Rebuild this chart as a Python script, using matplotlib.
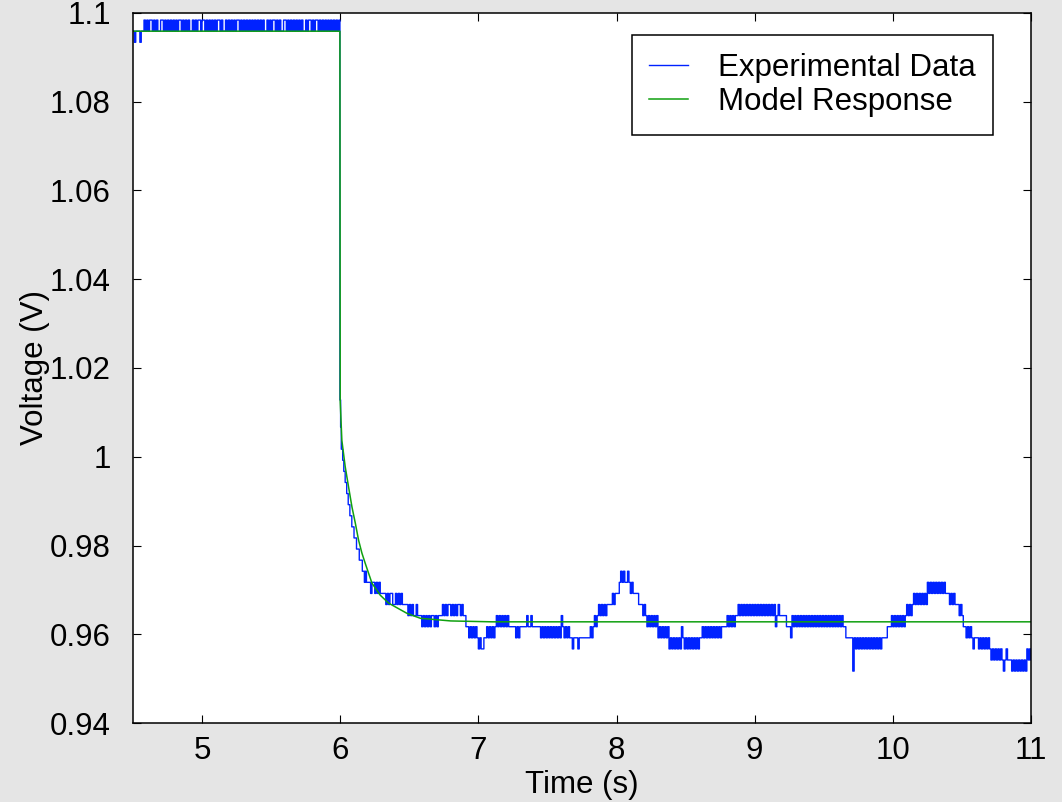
import numpy as np
import matplotlib.pyplot as plt

plt.rcParams['font.family'] = ['Liberation Sans', 'DejaVu Sans']

# ---- experimental data -------------------------------------------------
# plateau before the step: one sample every 10 ms from 4.50 s,
# each code is an index into PLATEAU_LEVELS (volts)
PLATEAU_LEVELS = [1.0934, 1.0959, 1.0984]
PLATEAU_CODES = (
    "10111011"
    "21212212121122121212"
    "12121221212121121212"
    "21221212121212212112"
    "12121212212121212121"
    "21212121121212212121"
    "12212121212121211212"
    "2121221212121212121212"
)

STEP_T = [5.998, 6.003, 6.008, 6.018, 6.026, 6.036, 6.047, 6.058, 6.070,
          6.084, 6.100, 6.118, 6.138, 6.160, 6.175, 6.182, 6.190]
STEP_V = [1.0128, 1.0067, 1.0017, 0.9992, 0.9967, 0.9942, 0.9917, 0.9892,
          0.9867, 0.9842, 0.9817, 0.9792, 0.9767, 0.9742, 0.9717, 0.9742,
          0.9717]

# after the drop: one sample every 10 ms from 6.20 s to 11.00 s,
# each digit is an index into TAIL_LEVELS (volts)
TAIL_LEVELS = [0.9517, 0.9542, 0.9567, 0.9592, 0.9617,
               0.9642, 0.9667, 0.9692, 0.9717, 0.9742]
TAIL_CODES = [
    "8", "87887878", "777", "76767766767676", "66", "65656556", "55",
    "54545454554545", "55", "656566565656656", "55", "4", "4343434",
    "32322", "3", "3434343", "4", "5454545454", "444", "43434",
    "4444544544444", "4343434343434343", "5", "434343", "3233",
    "323333333", "343", "454", "56565656", "66", "6767", "77", "89898",
    "89", "8787", "777", "6", "66", "565", "45454545", "34343434",
    "23232323243232323232323", "3434343434343434", "444", "5454545",
    "56565656565656565656565656564565", "5555", "4443",
    "5454545454545454545454545454545454545", "44", "33333", "0",
    "323232323232323232323", "333", "444", "54545454545", "65656",
    "7676767676", "8787878787878", "77", "76767", "66", "6565", "4",
    "43434", "3233", "323232323", "2121212121012", "111",
    "01010101010", "2121",
]

# ---- model response ----------------------------------------------------
MODEL_T = [4.5, 5.998, 6.000, 6.012, 6.036, 6.060, 6.085, 6.109, 6.133,
           6.157, 6.181, 6.230, 6.290, 6.351, 6.484, 6.580, 6.800, 7.100,
           11.0]
MODEL_V = [1.0959, 1.0959, 1.0125, 1.0037, 0.9978, 0.9933, 0.9887, 0.9851,
           0.9812, 0.9783, 0.9760, 0.9715, 0.9688, 0.9670, 0.9647, 0.9636,
           0.9630, 0.9628, 0.9628]

X_TICKS = [5, 6, 7, 8, 9, 10, 11]
Y_TICKS = [0.94, 0.96, 0.98, 1.0, 1.02, 1.04, 1.06, 1.08, 1.1]
Y_TICK_LABELS = ['0.94', '0.96', '0.98', '1', '1.02', '1.04', '1.06',
                 '1.08', '1.1']

# assemble the measured trace
plat_t = 4.5 + 0.01 * np.arange(len(PLATEAU_CODES))
plat_v = [PLATEAU_LEVELS[int(c)] for c in PLATEAU_CODES]
tail = ''.join(TAIL_CODES)
tail_t = 6.2 + 0.01 * np.arange(len(tail))
tail_v = [TAIL_LEVELS[int(c)] for c in tail]

exp_t = np.concatenate([plat_t, STEP_T, tail_t])
exp_v = np.concatenate([plat_v, STEP_V, tail_v])

# ---- figure ------------------------------------------------------------
fig = plt.figure(figsize=(10.62, 8.02), dpi=100, facecolor='#e5e5e5')
ax = fig.add_axes([0.1252, 0.0985, 0.8456, 0.8853])
ax.set_facecolor('white')

ax.plot(exp_t, exp_v, color='#0022ff', lw=1.0, drawstyle='steps-post',
        label='Experimental Data')
ax.plot(MODEL_T, MODEL_V, color='#10a010', lw=1.1, label='Model Response')

ax.set_xlim(4.5, 11)
ax.set_ylim(0.94, 1.1)
ax.set_xticks(X_TICKS)
ax.set_yticks(Y_TICKS)
ax.set_yticklabels(Y_TICK_LABELS)
ax.tick_params(direction='in', top=True, right=True, length=5.5, width=0.8,
               labelsize=22.5, colors='black')
ax.tick_params(axis='x', pad=9)
ax.tick_params(axis='y', pad=16)
for sp in ax.spines.values():
    sp.set_linewidth(1.1)

ax.set_xlabel('Time (s)', fontsize=22.5, labelpad=3)
ax.set_ylabel('Voltage (V)', fontsize=22.5, labelpad=0)

leg = ax.legend(loc='upper right', bbox_to_anchor=(0.9577, 0.969),
                fontsize=22.5, frameon=True, fancybox=False,
                edgecolor='black', framealpha=1, handlelength=1.25,
                handletextpad=0.95, borderpad=0.56, labelspacing=0.15,
                borderaxespad=0)
leg.get_frame().set_linewidth(1.1)

fig.savefig('out.png', dpi=100, facecolor=fig.get_facecolor())
